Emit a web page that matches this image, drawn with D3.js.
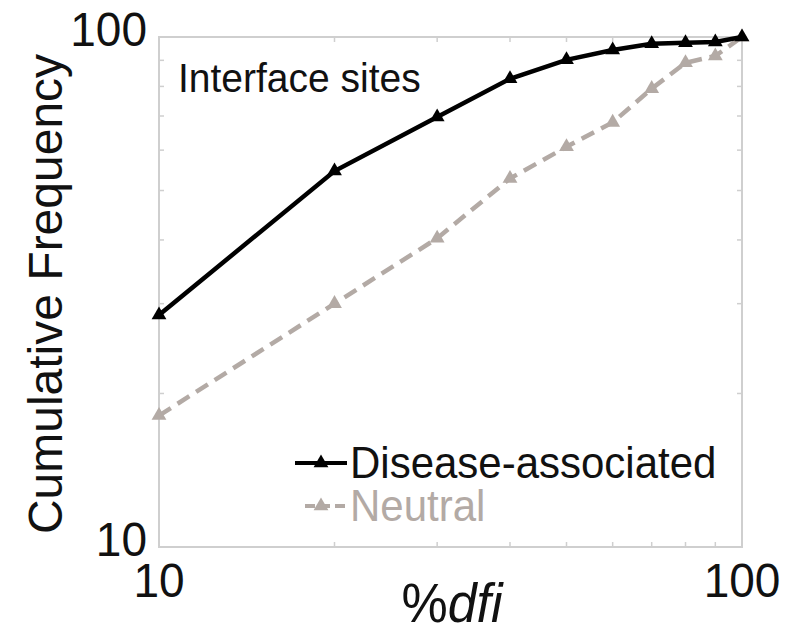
<!DOCTYPE html>
<html>
<head>
<meta charset="utf-8">
<script src="https://cdn.jsdelivr.net/npm/d3@7"></script>
<style>
  body { margin: 0; background: #fff; }
  text { font-family: "Liberation Sans", Arial, sans-serif; }
</style>
</head>
<body>
<svg id="chart" width="787" height="637"></svg>
<script>
// data
const dfi = [10, 20, 30, 40, 50, 60, 70, 80, 90, 100];
const disease = [28.5, 54.6, 69.7, 82.8, 90.2, 94.3, 97.0, 97.4, 97.8, 100];
const neutral = [18.1, 30.0, 40.3, 52.8, 60.9, 68.0, 79.2, 89.0, 91.8, 100];
const majorTicks = [10, 100];
const minorTicks = [20, 30, 40, 50, 60, 70, 80, 90];

const svg = d3.select("#chart");
const plotLeft = 159, plotRight = 742, plotTop = 37, plotBottom = 547;
const stretch = 1.06; // the figure text is a bit taller than wide

const x = d3.scaleLog().domain([10, 100]).range([plotLeft, plotRight]);
const y = d3.scaleLog().domain([10, 100]).range([plotBottom, plotTop]);

const frameColor = "#cfcfcf";
const grey = "#b3aaa5";

function label(tx, ty, str, size, anchor, color) {
    return svg.append("text")
        .attr("transform", `translate(${tx},${ty}) scale(1,${stretch})`)
        .attr("text-anchor", anchor).attr("font-size", size).attr("fill", color || "#111")
        .text(str);
}

// frame
svg.append("rect")
    .attr("x", plotLeft).attr("y", plotTop)
    .attr("width", plotRight - plotLeft).attr("height", plotBottom - plotTop)
    .attr("fill", "none").attr("stroke", frameColor).attr("stroke-width", 2);

// inward ticks on all four sides
const tickLen = 5;
minorTicks.forEach(v => {
    svg.append("line").attr("x1", x(v)).attr("x2", x(v)).attr("y1", plotBottom).attr("y2", plotBottom - tickLen)
        .attr("stroke", frameColor).attr("stroke-width", 1.5);
    svg.append("line").attr("x1", x(v)).attr("x2", x(v)).attr("y1", plotTop).attr("y2", plotTop + tickLen)
        .attr("stroke", frameColor).attr("stroke-width", 1.5);
    svg.append("line").attr("x1", plotLeft).attr("x2", plotLeft + tickLen).attr("y1", y(v)).attr("y2", y(v))
        .attr("stroke", frameColor).attr("stroke-width", 1.5);
    svg.append("line").attr("x1", plotRight).attr("x2", plotRight - tickLen).attr("y1", y(v)).attr("y2", y(v))
        .attr("stroke", frameColor).attr("stroke-width", 1.5);
});

// tick labels
majorTicks.forEach(v => {
    label(x(v), plotBottom + 50, v, 46, "middle");
    label(plotLeft - 12, y(v) + 9, v, 46, "end");
});

// axis titles
svg.append("text")
    .attr("transform", `translate(62, ${(plotTop + plotBottom) / 2 + 2}) rotate(-90)`)
    .attr("text-anchor", "middle").attr("font-size", 48).attr("fill", "#111")
    .text("Cumulative Frequency");

label(452, 622, "%", 52, "middle")
    .text(null)
    .html('%<tspan font-style="italic">dfi</tspan>');

label(178, 92, "Interface sites", 39, "start");

// lines
const line = d3.line().x((d, i) => x(dfi[i])).y(d => y(d));
const tri = d3.symbol().type(d3.symbolTriangle).size(95);

svg.append("path").datum(neutral)
    .attr("d", line).attr("fill", "none")
    .attr("stroke", grey).attr("stroke-width", 4.5)
    .attr("stroke-dasharray", "14 8");
svg.selectAll(".neutral-pt").data(neutral).join("path")
    .attr("class", "neutral-pt")
    .attr("transform", (d, i) => `translate(${x(dfi[i])},${y(d)})`)
    .attr("d", tri).attr("fill", grey);

svg.append("path").datum(disease)
    .attr("d", line).attr("fill", "none")
    .attr("stroke", "#000").attr("stroke-width", 4.5);
svg.selectAll(".disease-pt").data(disease).join("path")
    .attr("class", "disease-pt")
    .attr("transform", (d, i) => `translate(${x(dfi[i])},${y(d)})`)
    .attr("d", tri).attr("fill", "#000");

// legend
const legend = [
    { name: "Disease-associated", color: "#000", dash: null, x1: 295, textColor: "#111" },
    { name: "Neutral", color: grey, dash: "10 5", x1: 305, textColor: grey }
];
legend.forEach((l, i) => {
    const ly = 463 + i * 43;
    svg.append("line").attr("x1", l.x1).attr("x2", 347).attr("y1", ly).attr("y2", ly)
        .attr("stroke", l.color).attr("stroke-width", 4)
        .attr("stroke-dasharray", l.dash);
    svg.append("path").attr("transform", `translate(321,${ly})`)
        .attr("d", tri).attr("fill", l.color);
    label(350, ly + 15, l.name, 42, "start", l.textColor);
});
</script>
</body>
</html>
